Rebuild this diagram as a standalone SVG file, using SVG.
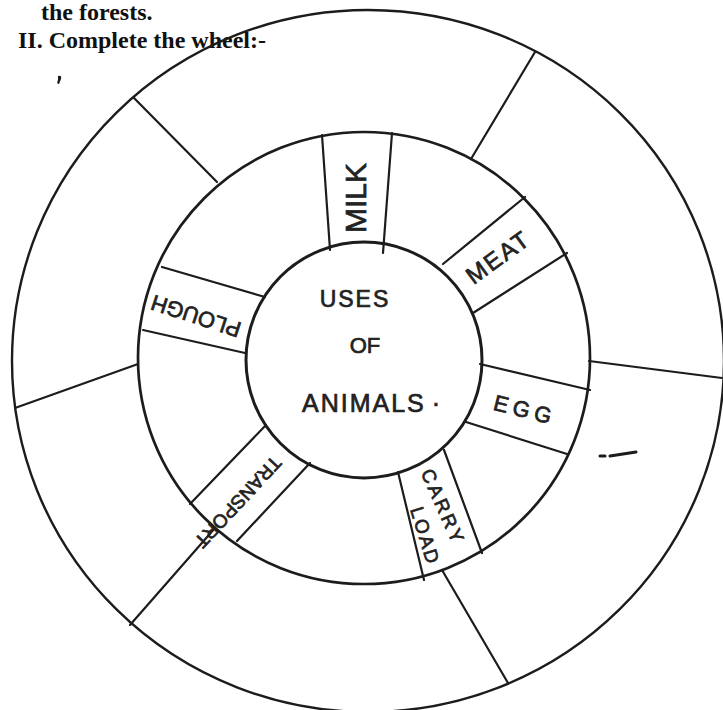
<svg xmlns="http://www.w3.org/2000/svg" width="723" height="710" viewBox="0 0 723 710">
<style>
  .ring{fill:none;stroke:#1c1c1c}
  .ln{stroke:#1c1c1c;stroke-width:2.2;stroke-linecap:round;fill:none}
  .hd{font-family:"Liberation Serif","Times New Roman",serif;font-weight:bold;font-size:24px;fill:#111}
  .lb{font-family:"Liberation Sans",Arial,sans-serif;fill:#222;stroke:#222;stroke-width:0.7;text-anchor:middle;dominant-baseline:central}
</style>
<rect width="723" height="710" fill="#ffffff"/>
<g id="title">
  <text class="hd" x="41" y="20">the forests.</text>
  <text class="hd" x="18" y="48">II. Complete the wheel:-</text>
</g>
<g id="wheel">
  <ellipse class="ring" cx="368" cy="361" rx="356" ry="351" stroke-width="2.4"/>
  <circle class="ring" cx="364" cy="358" r="226" stroke-width="2.7"/>
</g>
<g id="connectors">
  <line class="ln" x1="217" y1="182" x2="134" y2="98"/>
  <line class="ln" x1="471" y1="159" x2="535" y2="52"/>
  <line class="ln" x1="589" y1="361" x2="722" y2="378"/>
  <line class="ln" x1="442" y1="570" x2="508" y2="683"/>
  <line class="ln" x1="215" y1="528" x2="130" y2="625"/>
  <line class="ln" x1="138" y1="364" x2="15" y2="408"/>
</g>
<g id="center">
  <circle class="ring" cx="364" cy="360" r="118" stroke-width="3"/>
  <text class="lb" x="355" y="299" font-size="23" letter-spacing="2">USES</text>
  <text class="lb" x="365" y="345" font-size="22">OF</text>
  <text class="lb" x="372" y="403" font-size="25" letter-spacing="2">ANIMALS<tspan dx="6">·</tspan></text>
</g>
<g id="milk">
  <line class="ln" x1="322" y1="135" x2="330" y2="250"/>
  <line class="ln" x1="392" y1="133" x2="383" y2="253"/>
  <text class="lb" font-size="30" transform="translate(355 198) rotate(-90)">MILK</text>
</g>
<g id="meat">
  <line class="ln" x1="443" y1="264" x2="525" y2="197"/>
  <line class="ln" x1="473" y1="313" x2="567" y2="253"/>
  <text class="lb" font-size="24" letter-spacing="2" transform="translate(498 257) rotate(-36)">MEAT</text>
</g>
<g id="egg">
  <line class="ln" x1="480" y1="364" x2="590" y2="390"/>
  <line class="ln" x1="466" y1="422" x2="567" y2="454"/>
  <text class="lb" font-size="22" letter-spacing="5" transform="translate(525 410) rotate(14)">EGG</text>
</g>
<g id="carry-load">
  <line class="ln" x1="398" y1="472" x2="424" y2="580"/>
  <line class="ln" x1="444" y1="450" x2="482" y2="553"/>
  <text class="lb" font-size="19" letter-spacing="3" transform="translate(443 507) rotate(66)">CARRY</text>
  <text class="lb" font-size="19" letter-spacing="2" transform="translate(425 536) rotate(73)">LOAD</text>
</g>
<g id="transport">
  <line class="ln" x1="266" y1="425" x2="190" y2="504"/>
  <line class="ln" x1="310" y1="463" x2="237" y2="541"/>
  <text class="lb" font-size="19" transform="translate(238 502) rotate(133)">TRANSPORT</text>
</g>
<g id="plough">
  <line class="ln" x1="162" y1="267" x2="265" y2="297"/>
  <line class="ln" x1="143" y1="330" x2="245" y2="353"/>
  <text class="lb" font-size="22" transform="translate(196 316) rotate(198)">PLOUGH</text>
</g>
<g id="marks">
  <path d="M600 456 L605 456 M610 456 L636 452" stroke="#1c1c1c" stroke-width="3" stroke-linecap="round" fill="none"/>
  <path d="M58 76 q4 -1 3 3 l-2 5 q-3 0 -1 -4 z" fill="#1c1c1c"/>
</g>
</svg>
